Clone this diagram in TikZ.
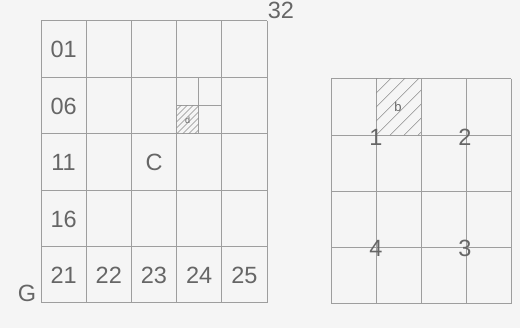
\documentclass[tikz,border=0pt]{standalone}
\usepackage{fontspec}
\setmainfont{Liberation Sans}
\usetikzlibrary{positioning}

\begin{document}
\begin{tikzpicture}[
  x=1pt, y=-1pt,
  gridline/.style={draw=black!38, line width=1pt},
  hatchline/.style={draw=black!45, line width=0.7pt},
  lbl/.style={text=black!60, inner sep=0pt, font=\fontsize{23.5}{23.5}\selectfont},
  small/.style={text=black!60, inner sep=0pt, font=\fontsize{13}{13}\selectfont},
  tiny/.style={text=black!60, inner sep=0pt, font=\fontsize{9}{9}\selectfont},
]
\fill[black!4] (0,0) rectangle (520,328);
\useasboundingbox (0,0) rectangle (520,328);

% left sheet, 5 x 5
\foreach \i in {0,...,5} {
  \draw[gridline] (41+45.2*\i,21) -- (41+45.2*\i,303);
  \draw[gridline] (41,21+56.4*\i) -- (267,21+56.4*\i);
}
% quarter split of one cell
\draw[gridline, line width=0.6pt] (198.6,77.4) -- (198.6,133.8);
\draw[gridline, line width=0.6pt] (176.6,105.6) -- (221.8,105.6);
\begin{scope}
  \clip (176.6,105.6) rectangle (198.6,133.8);
  \foreach \k in {-4,...,4}
    \draw[hatchline, line width=0.5pt] (176.6+6*\k,133.8) -- ++(30,-30);
\end{scope}
\node[tiny] (d) at (187.6,120) {d};

\node[lbl] (n01) at (63.6,49.5)  {01};
\node[lbl] (n06) at (63.6,106)   {06};
\node[lbl] (n11) at (63.6,162.5) {11};
\node[lbl] (n16) at (63.6,219)   {16};
\node[lbl] (n21) at (63.6,275.5) {21};
\node[lbl] (n22) at (108.8,275.5) {22};
\node[lbl] (n23) at (154,275.5)  {23};
\node[lbl] (n24) at (199.2,275.5) {24};
\node[lbl] (n25) at (244.4,275.5) {25};
\node[lbl] (C)   at (154,162.5)  {C};
\node[lbl] (G)   at (27,293)     {G};
\node[lbl] (n32) at (281,10)     {32};

% right sheet, 4 x 4
\foreach \i in {0,...,4} {
  \draw[gridline] (331+45*\i,79) -- (331+45*\i,304);
  \draw[gridline] (331,79+56.25*\i) -- (511,79+56.25*\i);
}
\begin{scope}
  \clip (376,79) rectangle (421,135.25);
  \foreach \k in {-4,...,3}
    \draw[hatchline] (376+14*\k,135.25) -- ++(70,-70);
\end{scope}
\node[small] (b) at (398,107) {b};

\node[lbl] (r1) at (376,137) {1};
\node[lbl] (r2) at (465,137) {2};
\node[lbl] (r4) at (376,248) {4};
\node[lbl] (r3) at (465,248) {3};
\end{tikzpicture}
\end{document}
